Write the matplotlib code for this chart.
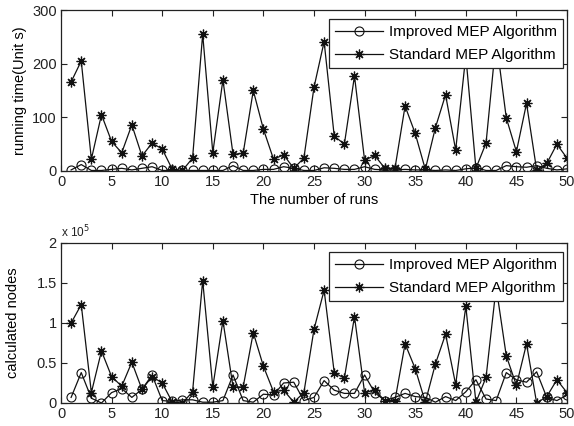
import numpy as np
import matplotlib
matplotlib.use("Agg")
import matplotlib.pyplot as plt
from matplotlib.ticker import FuncFormatter

plt.rcParams['font.family'] = ['Liberation Sans', 'DejaVu Sans']

runs = list(range(1, 51))

time_improved = [2, 12, 1, 1, 3, 5, 2, 5, 8, 1,
                 1, 1, 1, 1, 1, 1, 10, 1, 1, 3,
                 3, 8, 5, 1, 1, 6, 5, 3, 3, 8,
                 3, 2, 2, 3, 2, 2, 1, 2, 1, 4,
                 6, 1, 1, 10, 8, 7, 10, 5, 2, 4]
time_standard = [166, 205, 22, 105, 55, 34, 86, 28, 52, 41,
                 3, 1, 24, 255, 34, 170, 31, 33, 150, 78,
                 22, 30, 5, 24, 156, 241, 65, 50, 177, 20,
                 29, 5, 5, 121, 70, 3, 81, 142, 39, 215,
                 5, 52, 245, 99, 36, 126, 2, 14, 50, 24]

# calculated nodes, in units of 1e5
nodes_improved = [0.07, 0.38, 0.06, 0.00, 0.13, 0.18, 0.07, 0.17, 0.35, 0.03,
                  0.02, 0.04, 0.04, 0.01, 0.01, 0.03, 0.35, 0.03, 0.01, 0.11,
                  0.10, 0.25, 0.26, 0.03, 0.07, 0.28, 0.16, 0.12, 0.12, 0.35,
                  0.13, 0.03, 0.07, 0.12, 0.08, 0.07, 0.01, 0.08, 0.03, 0.14,
                  0.29, 0.05, 0.03, 0.38, 0.29, 0.26, 0.39, 0.07, 0.03, 0.10]
nodes_standard = [1.00, 1.23, 0.13, 0.65, 0.33, 0.21, 0.51, 0.17, 0.33, 0.25,
                  0.01, 0.00, 0.14, 1.53, 0.20, 1.03, 0.20, 0.20, 0.88, 0.46,
                  0.14, 0.16, 0.01, 0.13, 0.92, 1.41, 0.38, 0.31, 1.08, 0.13,
                  0.16, 0.03, 0.03, 0.74, 0.43, 0.01, 0.49, 0.86, 0.23, 1.21,
                  0.01, 0.32, 1.45, 0.59, 0.22, 0.74, 0.00, 0.08, 0.29, 0.13]

labels = ['Improved MEP Algorithm', 'Standard MEP Algorithm']

W, H = 574, 426
fig = plt.figure(figsize=(W / 100, H / 100), dpi=100)

def axrect(l, t, r, b):
    return [l / W, 1 - b / H, (r - l) / W, (b - t) / H]

AL, AR = 61, 567
ax1 = fig.add_axes(axrect(AL, 10, AR, 171))
ax2 = fig.add_axes(axrect(AL, 243, AR, 403))

lc = '#111111'
fs = 10.5

def style(ax):
    ax.set_xlim(0, 50)
    ax.set_xticks(range(0, 51, 5))
    ax.tick_params(direction='in', length=4, width=0.8, top=True, right=True,
                   labelsize=fs, colors='#222222', pad=3)
    for s in ax.spines.values():
        s.set_linewidth(0.9)
        s.set_color('#222222')

for ax, imp, std in [(ax1, time_improved, time_standard),
                     (ax2, nodes_improved, nodes_standard)]:
    ax.plot(runs, imp, color=lc, lw=0.9, marker='o', ms=6.5, mfc='none',
            mec=lc, mew=0.8, label=labels[0])
    ax.plot(runs, std, color=lc, lw=0.9, marker=(8, 2, 0), ms=7,
            mec=lc, mew=0.9, label=labels[1])
    style(ax)
    leg = ax.legend(loc='upper right', fontsize=11, frameon=True, fancybox=False,
                    edgecolor='#222222', framealpha=1, handlelength=3.1,
                    bbox_to_anchor=(1 - 4 / (AR - AL), 1 - 9 / 161),
                    borderaxespad=0.0, borderpad=0.4, labelspacing=0.6,
                    handletextpad=0.4)
    leg.get_frame().set_linewidth(0.9)

ax1.set_ylim(0, 300)
ax1.set_yticks([0, 100, 200, 300])
ax1.set_ylabel('running time(Unit s)', fontsize=fs, labelpad=4)
ax1.set_xlabel('The number of runs', fontsize=fs, labelpad=3)

ax2.set_ylim(0, 2)
ax2.set_yticks([0, 0.5, 1, 1.5, 2])
ax2.yaxis.set_major_formatter(FuncFormatter(lambda v, p: f'{v:g}'))
ax2.set_ylabel('calculated nodes', fontsize=fs, labelpad=12)
ax2.text(0.0, 1.02, 'x 10$^5$', transform=ax2.transAxes, fontsize=8.5,
         ha='left', va='bottom', color='#222222')

fig.savefig('out.png', dpi=100)
